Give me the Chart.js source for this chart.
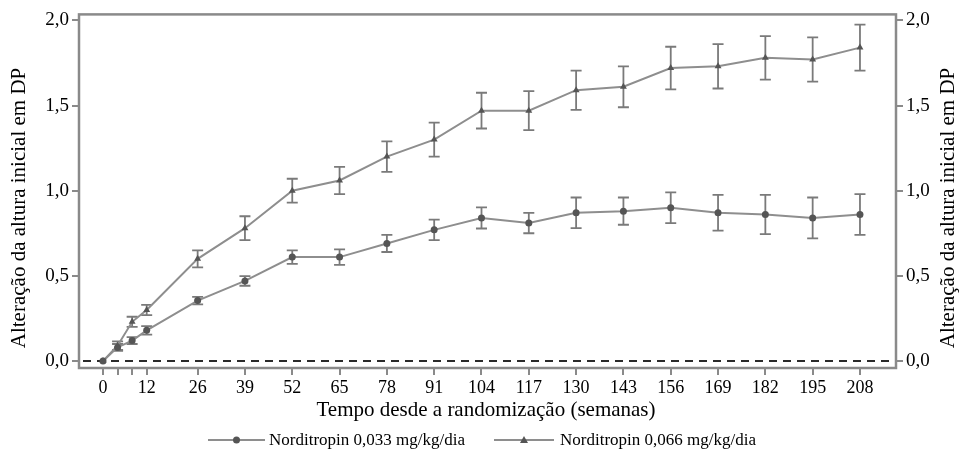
<!DOCTYPE html>
<html>
<head>
<meta charset="utf-8">
<script src="https://cdn.jsdelivr.net/npm/chart.js@4/dist/chart.umd.min.js"></script>
<style>
html,body{margin:0;padding:0;background:#fff;}
#wrap{width:960px;height:452px;position:relative;}
</style>
</head>
<body>
<div id="wrap"><canvas id="c" width="960" height="452"></canvas></div>
<script>
const weeks = [0,4,8,12,26,39,52,65,78,91,104,117,130,143,156,169,182,195,208];
const labelledWeeks = [0,12,26,39,52,65,78,91,104,117,130,143,156,169,182,195,208];
const yTicks = [0,0.5,1,1.5,2];
const lowDose = [0,0.08,0.12,0.18,0.355,0.47,0.61,0.61,0.69,0.77,0.84,0.81,0.87,0.88,0.90,0.87,0.86,0.84,0.86];
const lowDoseErr = [0,0.02,0.02,0.025,0.022,0.028,0.04,0.045,0.05,0.06,0.062,0.06,0.09,0.08,0.09,0.105,0.115,0.12,0.12];
const highDose = [0,0.09,0.23,0.30,0.60,0.78,1.00,1.06,1.20,1.30,1.47,1.47,1.59,1.61,1.72,1.73,1.78,1.77,1.84];
const highDoseErr = [0,0.025,0.03,0.03,0.05,0.07,0.07,0.08,0.09,0.10,0.105,0.115,0.115,0.12,0.125,0.13,0.128,0.13,0.135];
const seriesNames = ['Norditropin 0,033 mg/kg/dia','Norditropin 0,066 mg/kg/dia'];
const xTitle = 'Tempo desde a randomização (semanas)';
const yTitle = 'Alteração da altura inicial em DP';

const FONT = '"Liberation Serif","Times New Roman",serif';
const LINE = '#8e8e8e';
const MARK = '#555555';
const ERR = '#7a7a7a';
const AXIS = '#8a8a8a';

const toPts = (vals) => weeks.map((w,i)=>({x:w,y:vals[i]}));
const errs = [lowDoseErr, highDoseErr];

const overlay = {
  id:'overlay',
  beforeDatasetsDraw(chart){
    const {ctx, chartArea:a, scales:{x,y}} = chart;
    const y0 = y.getPixelForValue(0);
    ctx.save();
    ctx.setLineDash([8,6]);
    ctx.strokeStyle='#2a2a2a'; ctx.lineWidth=2;
    ctx.beginPath(); ctx.moveTo(a.left+4,y0); ctx.lineTo(a.right,y0); ctx.stroke();
    ctx.setLineDash([]);
    chart.data.datasets.forEach((ds,di)=>{
      const e = errs[di];
      ds.data.forEach((p,i)=>{
        if(!e[i]) return;
        const px = x.getPixelForValue(p.x);
        const top = y.getPixelForValue(p.y+e[i]);
        const bot = y.getPixelForValue(p.y-e[i]);
        ctx.strokeStyle=ERR; ctx.lineWidth=1.8;
        ctx.beginPath();
        ctx.moveTo(px,top); ctx.lineTo(px,bot);
        ctx.moveTo(px-5.5,top); ctx.lineTo(px+5.5,top);
        ctx.moveTo(px-5.5,bot); ctx.lineTo(px+5.5,bot);
        ctx.stroke();
      });
    });
    ctx.restore();
  },
  afterDraw(chart){
    const {ctx, chartArea:a} = chart;
    ctx.save();
    ctx.strokeStyle=AXIS; ctx.lineWidth=2.5;
    ctx.strokeRect(a.left, a.top, a.right-a.left, a.bottom-a.top);
    ctx.fillStyle='#000';
    ctx.font='21px '+FONT;
    ctx.textAlign='center'; ctx.textBaseline='middle';
    const cy = 208;
    [19, 948].forEach(cx=>{
      ctx.save(); ctx.translate(cx, cy); ctx.rotate(-Math.PI/2);
      ctx.fillText(yTitle,0,0); ctx.restore();
    });
    ctx.font='21px '+FONT;
    ctx.fillText(xTitle, 486, 410);
    // legend
    const items = [{x1:208,x2:265,style:'circle',tx:269},{x1:494,x2:554,style:'triangle',tx:560}];
    const ly = 440;
    ctx.font='17px '+FONT; ctx.textAlign='left';
    items.forEach((it,i)=>{
      ctx.strokeStyle=LINE; ctx.lineWidth=2;
      ctx.beginPath(); ctx.moveTo(it.x1,ly); ctx.lineTo(it.x2,ly); ctx.stroke();
      const mx=(it.x1+it.x2)/2;
      ctx.fillStyle=MARK;
      ctx.beginPath();
      if(it.style==='circle'){ ctx.arc(mx,ly,3.5,0,Math.PI*2); }
      else { ctx.moveTo(mx,ly-4); ctx.lineTo(mx+4,ly+3); ctx.lineTo(mx-4,ly+3); ctx.closePath(); }
      ctx.fill();
      ctx.fillStyle='#000';
      ctx.fillText(seriesNames[i], it.tx, ly+1);
    });
    ctx.restore();
  }
};

const fmt = v => v.toFixed(1).replace('.',',');
const yAxisCommon = {
  type:'linear', min:-0.041, max:2.035,
  afterBuildTicks: s => { s.ticks = yTicks.map(v=>({value:v})); },
  ticks:{ callback: v => fmt(v), color:'#000', font:{family:FONT,size:19}, padding:3 },
  grid:{ drawOnChartArea:false, drawTicks:true, tickLength:7, color:AXIS, lineWidth:2 },
  border:{ display:false }
};

new Chart(document.getElementById('c'), {
  type:'line',
  data:{
    datasets:[
      { label:seriesNames[0], data:toPts(lowDose), borderColor:LINE, borderWidth:2,
        pointStyle:'circle', pointRadius:3.5, pointBackgroundColor:MARK, pointBorderColor:MARK, pointBorderWidth:0, tension:0 },
      { label:seriesNames[1], data:toPts(highDose), borderColor:LINE, borderWidth:2,
        pointStyle:'triangle', pointRadius:4, pointBackgroundColor:MARK, pointBorderColor:MARK, pointBorderWidth:0, tension:0 }
    ]
  },
  options:{
    responsive:false, animation:false, devicePixelRatio:1,
    layout:{ padding:{ top:13, left:0, right:0, bottom:0 } },
    plugins:{ legend:{display:false}, tooltip:{enabled:false} },
    scales:{
      x:{ type:'linear', min:-6.6, max:217.9,
        afterBuildTicks: s => { s.ticks = weeks.map(v=>({value:v})); },
        afterFit: s => { s.height = 84; },
        ticks:{ autoSkip:false, maxRotation:0, callback: v => labelledWeeks.includes(v) ? String(v) : '', color:'#000', font:{family:FONT,size:18}, padding:2 },
        grid:{ drawOnChartArea:false, drawTicks:true, tickLength:7, color:AXIS, lineWidth:2 },
        border:{ display:false }
      },
      y:Object.assign({}, yAxisCommon, { position:'left', afterFit: s => { s.width = 79; } }),
      y2:Object.assign({}, yAxisCommon, { position:'right', afterFit: s => { s.width = 64; } })
    }
  },
  plugins:[overlay]
});
</script>
</body>
</html>
